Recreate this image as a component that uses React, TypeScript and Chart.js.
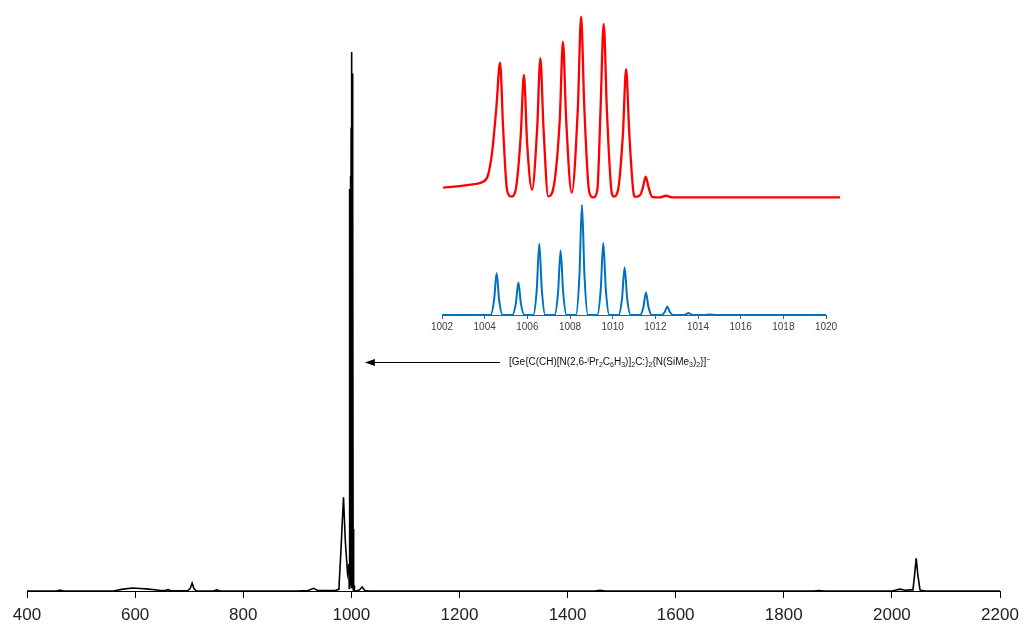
import React, { useEffect, useRef } from "react";
import { Chart, registerables } from "chart.js";

Chart.register(...registerables);

// ---------- Main spectrum ----------
const MAIN_X_MIN = 400;
const MAIN_X_MAX = 2200;
const MAIN_X_STEP = 200;
const MAIN_Y_MAX = 107.8;

const MAIN_MZ = [
  400, 455, 461, 467, 560, 575, 595, 610, 625, 645, 655, 661, 667, 697, 702, 705.5, 709, 713,
  745, 751, 757, 900, 920, 930, 938, 970, 977, 981, 985.5, 989, 993, 995.5,
  996.1, 996.6, 997.1, 997.6, 998.1, 998.6, 999.1, 999.6, 1000.1, 1000.6, 1001.1, 1001.6,
  1002.2, 1002.8, 1003.4, 1004.0, 1004.6, 1005.2, 1005.8,
  1009, 1015, 1020, 1025, 1032, 1450, 1460, 1470, 1855, 1865, 1875,
  2000, 2008, 2015, 2025, 2035, 2039, 2042, 2045, 2048, 2052, 2060, 2200,
];
const MAIN_INT = [
  0, 0, 0.15, 0, 0, 0.3, 0.55, 0.45, 0.35, 0.15, 0.1, 0.25, 0.05, 0.05, 0.5, 1.45, 0.4, 0.05,
  0, 0.2, 0, 0, 0.1, 0.5, 0.1, 0.1, 0.3, 8, 17.4, 9, 3.3, 5,
  0.5, 74.6, 2, 67.8, 3, 77, 1, 86, 2, 100, 0.5, 96,
  0.5, 71, 0.3, 11.5, 0, 1, 0,
  0, 0.2, 0.75, 0.1, 0, 0, 0.15, 0, 0, 0.1, 0,
  0, 0.2, 0.35, 0.15, 0.2, 0.2, 3, 6.05, 3, 0.2, 0, 0,
];

// annotation (data coordinates of main chart)
const ARROW_TIP_MZ = 1025;
const ARROW_TAIL_MZ = 1275;
const ARROW_Y = 42.5;

// ---------- Inset ----------
const INSET_X_MIN = 1002;
const INSET_X_MAX = 1020;
const INSET_X_STEP = 2;

const RED_MZ = [
  1002.05, 1002.8, 1003.5, 1003.9, 1004.15, 1004.35, 1004.55, 1004.72, 1004.87, 1005.05,
  1005.25, 1005.45, 1005.69, 1005.84, 1005.99, 1006.22, 1006.46, 1006.61, 1006.76, 1006.98,
  1007.2, 1007.52, 1007.67, 1007.82, 1008.08, 1008.37, 1008.52, 1008.67, 1008.9, 1009.09,
  1009.28, 1009.43, 1009.58, 1009.73, 1009.95, 1010.05, 1010.25, 1010.48, 1010.63, 1010.78,
  1011.0, 1011.05, 1011.3, 1011.42, 1011.55, 1011.68, 1011.85, 1012.2, 1012.5, 1012.8, 1020.66,
];
const RED_INT = [
  5.4, 6.2, 7.3, 8.5, 12, 25, 50, 74.6, 37, 4,
  0.5, 4, 34, 67.8, 30, 4.3, 38, 77, 38, 0.6,
  4, 43, 86.2, 43, 2.6, 50, 100, 50, 3, 0,
  4, 48, 96, 48, 3, 0.5, 4, 35, 70.9, 35,
  1, 0.3, 1.5, 5.7, 11.4, 5.7, 0.3, 0, 0.9, 0, 0,
];
const RED_Y_MIN = -65.1;
const RED_Y_MAX = 103.7;

const BLUE_MZ = [
  1002,
  1004.28, 1004.44, 1004.56, 1004.68, 1004.84,
  1005.30, 1005.46, 1005.58, 1005.70, 1005.86,
  1006.28, 1006.44, 1006.56, 1006.68, 1006.84,
  1007.28, 1007.44, 1007.56, 1007.68, 1007.84,
  1008.28, 1008.44, 1008.56, 1008.68, 1008.84,
  1009.28, 1009.44, 1009.56, 1009.68, 1009.84,
  1010.28, 1010.44, 1010.56, 1010.68, 1010.84,
  1011.28, 1011.44, 1011.56, 1011.68, 1011.84,
  1012.28, 1012.44, 1012.56, 1012.68, 1012.84,
  1013.27, 1013.43, 1013.55, 1013.67, 1013.83,
  1014.28, 1014.56, 1014.84,
  1020,
];
const BLUE_INT = [
  0,
  0, 13.3, 38, 13.3, 0,
  0, 10.3, 29.4, 10.3, 0,
  0, 22.6, 64.7, 22.6, 0,
  0, 20.4, 58.4, 20.4, 0,
  0, 35, 100, 35, 0,
  0, 23, 65.6, 23, 0,
  0, 15, 43, 15, 0,
  0, 7.1, 20.4, 7.1, 0,
  0, 2.7, 7.7, 2.7, 0,
  0, 0.6, 1.8, 0.6, 0,
  0, 0.5, 0,
  0,
];
const BLUE_Y_MAX = 276.5;

const LABEL_FONT = "'Liberation Sans', Arial, sans-serif";

const toPoints = (xs: number[], ys: number[]) => xs.map((x, i) => ({ x, y: ys[i] }));
const plainTick = (v: any) => String(v);

const arrowPlugin = {
  id: "arrowNote",
  afterDatasetsDraw(chart: any) {
    const xs = chart.scales.x;
    const ys = chart.scales.y;
    const tipX = xs.getPixelForValue(ARROW_TIP_MZ);
    const tailX = xs.getPixelForValue(ARROW_TAIL_MZ);
    const y = Math.round(ys.getPixelForValue(ARROW_Y)) + 0.5;
    const ctx = chart.ctx;
    ctx.save();
    ctx.strokeStyle = "#000";
    ctx.fillStyle = "#000";
    ctx.lineWidth = 1;
    ctx.beginPath();
    ctx.moveTo(tailX, y);
    ctx.lineTo(tipX + 8, y);
    ctx.stroke();
    ctx.beginPath();
    ctx.moveTo(tipX, y);
    ctx.lineTo(tipX + 10, y - 3.5);
    ctx.lineTo(tipX + 10, y + 3.5);
    ctx.closePath();
    ctx.fill();
    ctx.restore();
  },
};

function MainChart() {
  const ref = useRef<HTMLCanvasElement | null>(null);
  useEffect(() => {
    if (!ref.current) return;
    const chart = new Chart(ref.current, {
      type: "line",
      data: {
        datasets: [
          {
            data: toPoints(MAIN_MZ, MAIN_INT),
            borderColor: "#000",
            borderWidth: 1.6,
            pointRadius: 0,
            tension: 0,
            fill: false,
          },
        ],
      },
      options: {
        animation: false,
        responsive: false,
        devicePixelRatio: 1,
        events: [],
        layout: { padding: { left: 27, right: 26, top: 10, bottom: 0 } },
        plugins: { legend: { display: false }, tooltip: { enabled: false } },
        scales: {
          x: {
            type: "linear",
            min: MAIN_X_MIN,
            max: MAIN_X_MAX,
            ticks: {
              stepSize: MAIN_X_STEP,
              color: "#222",
              font: { family: LABEL_FONT, size: 17 },
              padding: 7,
              maxRotation: 0,
              autoSkip: false,
              callback: plainTick,
            },
            grid: { drawOnChartArea: false, drawTicks: true, tickLength: 7, tickColor: "#000" },
            border: { display: true, color: "#000", width: 1 },
            afterFit: (s: any) => {
              s.height = 37;
            },
          },
          y: { display: false, min: 0, max: MAIN_Y_MAX },
        },
      } as any,
      plugins: [arrowPlugin],
    });
    return () => chart.destroy();
  }, []);
  return <canvas ref={ref} width={1026} height={628} style={{ position: "absolute", left: 0, top: 0 }} />;
}

function InsetChart() {
  const ref = useRef<HTMLCanvasElement | null>(null);
  useEffect(() => {
    if (!ref.current) return;
    const chart = new Chart(ref.current, {
      type: "line",
      data: {
        datasets: [
          {
            data: toPoints(RED_MZ, RED_INT),
            yAxisID: "yr",
            borderColor: "#FF0000",
            borderWidth: 2.3,
            pointRadius: 0,
            cubicInterpolationMode: "monotone",
            fill: false,
            clip: false,
          },
          {
            data: toPoints(BLUE_MZ, BLUE_INT),
            yAxisID: "y",
            borderColor: "#0070C0",
            borderWidth: 2,
            pointRadius: 0,
            cubicInterpolationMode: "monotone",
            fill: false,
            clip: false,
          },
        ],
      },
      options: {
        animation: false,
        responsive: false,
        devicePixelRatio: 1,
        events: [],
        layout: { padding: { left: 20, right: 20, top: 10, bottom: 0 } },
        plugins: { legend: { display: false }, tooltip: { enabled: false } },
        scales: {
          x: {
            type: "linear",
            min: INSET_X_MIN,
            max: INSET_X_MAX,
            ticks: {
              stepSize: INSET_X_STEP,
              color: "#404040",
              font: { family: LABEL_FONT, size: 10 },
              padding: 2,
              maxRotation: 0,
              autoSkip: false,
              callback: plainTick,
            },
            grid: { drawOnChartArea: false, drawTicks: true, tickLength: 4, tickColor: "#595959" },
            border: { display: true, color: "#595959", width: 1 },
            afterFit: (s: any) => {
              s.height = 30;
            },
          },
          y: { display: false, position: "left", min: 0, max: BLUE_Y_MAX },
          yr: { display: false, position: "right", min: RED_Y_MIN, max: RED_Y_MAX },
        },
      } as any,
    });
    return () => chart.destroy();
  }, []);
  return <canvas ref={ref} width={424} height={345} style={{ position: "absolute", left: 422, top: 0 }} />;
}

const sub: React.CSSProperties = { fontSize: "0.7em", verticalAlign: "-0.25em", lineHeight: 0 };
const sup: React.CSSProperties = { fontSize: "0.7em", verticalAlign: "0.45em", lineHeight: 0 };

export default function App() {
  return (
    <div style={{ position: "absolute", left: 0, top: 0, width: 1026, height: 628, background: "#fff", overflow: "hidden" }}>
      <MainChart />
      <InsetChart />
      <div
        style={{
          position: "absolute",
          left: 509,
          top: 355,
          fontFamily: LABEL_FONT,
          fontSize: 10,
          lineHeight: "14px",
          color: "#111",
          whiteSpace: "nowrap",
        }}
      >
        [Ge{"{"}C(CH)[N(2,6-<span style={sup}>i</span>Pr<span style={sub}>2</span>C<span style={sub}>6</span>H<span style={sub}>3</span>)]<span style={sub}>2</span>C:{"}"}<span style={sub}>2</span>{"{"}N(SiMe<span style={sub}>3</span>)<span style={sub}>2</span>{"}"}]<span style={sup}>−</span>
      </div>
    </div>
  );
}
